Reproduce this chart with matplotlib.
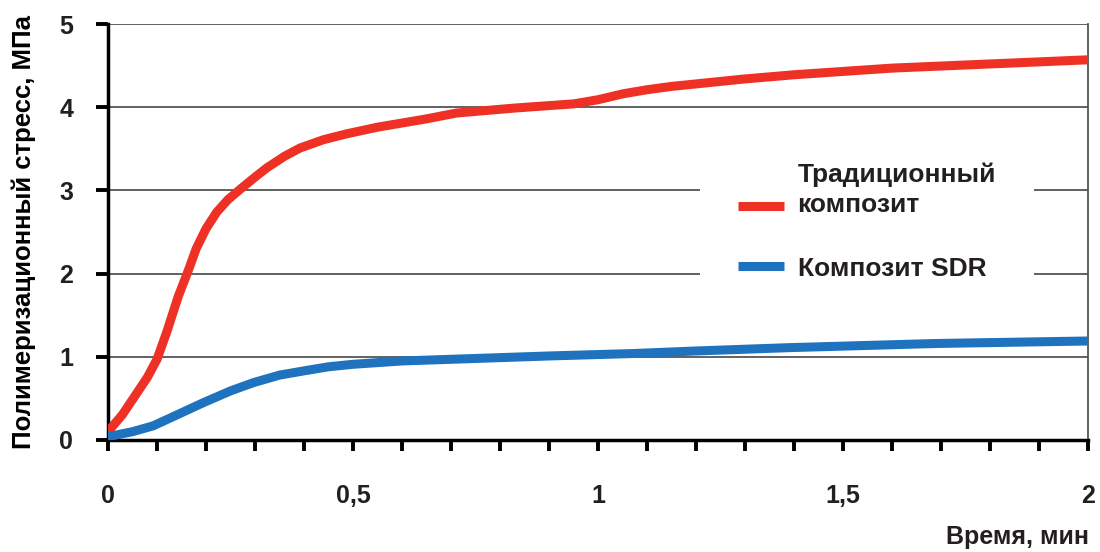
import numpy as np
import matplotlib.pyplot as plt
from matplotlib.ticker import MultipleLocator, FixedFormatter, FixedLocator

plt.rcParams['font.family'] = ['Liberation Sans', 'DejaVu Sans']
plt.rcParams['font.weight'] = 'bold'
plt.rcParams['text.color'] = '#231f20'

# Данные
time_red = [0, 0.03, 0.055, 0.08, 0.1, 0.12, 0.143, 0.164, 0.18, 0.2, 0.222, 0.245,
            0.269, 0.3, 0.324, 0.36, 0.392, 0.44, 0.487, 0.55, 0.6, 0.65, 0.711, 0.83,
            0.95, 1.0, 1.05, 1.1, 1.15, 1.2, 1.3, 1.4, 1.5, 1.6, 1.8, 2.0]
stress_red = [0.1, 0.31, 0.53, 0.75, 0.97, 1.3, 1.72, 2.04, 2.3, 2.54, 2.74, 2.89,
              3.01, 3.16, 3.27, 3.41, 3.51, 3.61, 3.68, 3.76, 3.81, 3.86, 3.93, 3.99,
              4.04, 4.09, 4.16, 4.21, 4.25, 4.28, 4.34, 4.39, 4.43, 4.47, 4.52, 4.57]

time_blue = [0, 0.05, 0.092, 0.14, 0.195, 0.25, 0.297, 0.35, 0.399, 0.45, 0.5, 0.6,
             0.7, 0.8, 0.9, 1.075, 1.2, 1.39, 1.69, 2.0]
stress_blue = [0.04, 0.1, 0.17, 0.3, 0.45, 0.59, 0.69, 0.78, 0.83, 0.88, 0.91, 0.95,
               0.97, 0.99, 1.01, 1.04, 1.07, 1.11, 1.16, 1.19]

x_ticks = [0, 0.5, 1, 1.5, 2]
x_labels = ['0', '0,5', '1', '1,5', '2']
y_ticks = [0, 1, 2, 3, 4, 5]

fig = plt.figure(figsize=(11, 5.52), dpi=100)
ax = fig.add_axes([0.0982, 0.2029, 0.8909, 0.7536])

ax.plot(time_red, stress_red, color='#ee3124', lw=6.5, solid_capstyle='round',
        solid_joinstyle='round', label='Традиционный\nкомпозит', zorder=3)
ax.plot(time_blue, stress_blue, color='#1f73be', lw=6.5, solid_capstyle='round',
        solid_joinstyle='round', label='Композит SDR', zorder=3)

ax.set_xlim(0, 2)
ax.set_ylim(0, 5)
ax.xaxis.set_major_locator(FixedLocator(x_ticks))
ax.xaxis.set_major_formatter(FixedFormatter(x_labels))
ax.xaxis.set_minor_locator(MultipleLocator(0.1))
ax.set_yticks(y_ticks)

ax.grid(axis='y', color='#555555', lw=1.3)
ax.set_axisbelow(True)

ax.spines['top'].set_visible(False)
ax.spines['left'].set_linewidth(2.5)
ax.spines['bottom'].set_linewidth(2.5)
ax.spines['right'].set_color('#555555')
ax.spines['right'].set_linewidth(1.3)

ax.tick_params(axis='x', which='both', direction='out', length=8, width=2.8,
               pad=24, labelsize=18, labelcolor='#231f20')
ax.tick_params(axis='y', direction='out', length=9, width=2.8, pad=16, labelsize=18,
               labelcolor='#231f20')

ax.set_ylabel('Полимеризационный стресс, МПа', fontsize=18.5, fontweight='bold', labelpad=17)
fig.text(0.99, 0.006, 'Время, мин', ha='right', va='bottom', fontsize=18, fontweight='bold')

leg = ax.legend(loc='upper left', bbox_to_anchor=(0.604, 0.758), frameon=True,
                facecolor='white', edgecolor='none', framealpha=1, fancybox=False,
                fontsize=19, handlelength=1.75, handletextpad=0.5,
                labelspacing=1.5, borderpad=1.45, borderaxespad=0)
for t in leg.get_texts():
    t.set_fontweight('bold')
    t.set_linespacing(1.3)

# маркер первой записи стоит на уровне второй строки подписи
red_handle = leg.legend_handles[0]
red_handle.set_ydata(np.asarray(red_handle.get_ydata()) - 11)
red_handle.set_solid_capstyle('butt')
leg.legend_handles[1].set_solid_capstyle('butt')

fig.savefig('out.png', dpi=100)
